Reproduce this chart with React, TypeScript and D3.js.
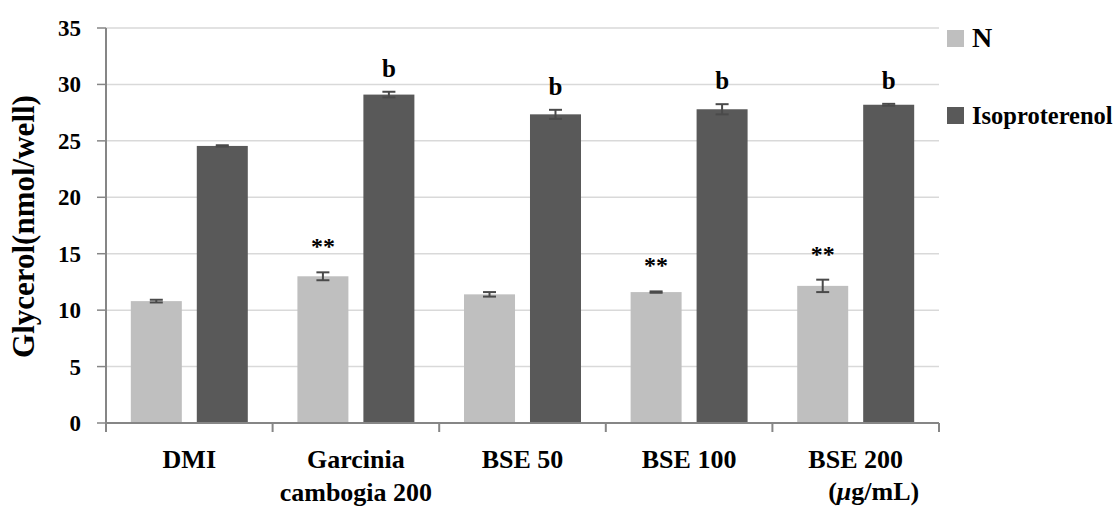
import React from "react";
import * as d3 from "d3";

const categories = ["DMI", "Garcinia cambogia 200", "BSE 50", "BSE 100", "BSE 200"];
const seriesNames = ["N", "Isoproterenol"];
const nValues = [10.8, 13.0, 11.4, 11.6, 12.15];
const nErrors = [0.12, 0.35, 0.2, 0.06, 0.55];
const isoValues = [24.55, 29.1, 27.35, 27.8, 28.2];
const isoErrors = [0.06, 0.25, 0.4, 0.45, 0.08];
const nMarks = ["", "**", "", "**", "**"];
const isoMarks = ["", "b", "b", "b", "b"];
const yTicks = [0, 5, 10, 15, 20, 25, 30, 35];

const colors = ["#bfbfbf", "#595959"];
const font = "'Liberation Serif', 'Times New Roman', serif";

const W = 1120;
const H = 507;
const margin = { left: 106, top: 28, right: 181, bottom: 84 };

const App = () => {
    const innerW = W - margin.left - margin.right;
    const innerH = H - margin.top - margin.bottom;

    const x0 = d3.scaleBand().domain(categories).range([0, innerW]).padding(0);
    const x1 = d3
        .scaleBand()
        .domain(seriesNames)
        .range([0, x0.bandwidth()])
        .paddingInner(0.227)
        .paddingOuter(0.376);
    const y = d3.scaleLinear().domain([0, 35]).range([innerH, 0]);

    const series = [
        { name: seriesNames[0], values: nValues, errors: nErrors, marks: nMarks, offset: 18, size: 24 },
        { name: seriesNames[1], values: isoValues, errors: isoErrors, marks: isoMarks, offset: 15, size: 25 },
    ];

    const boundaries = categories.map(c => x0(c)!).concat([innerW]);

    return (
        <svg
            width={W}
            height={H}
            style={{ position: "fixed", left: 0, top: 0, background: "#fff" }}
            fontFamily={font}
            fontWeight="bold"
        >
            <g transform={`translate(${margin.left},${margin.top})`}>
                {yTicks.map(t => (
                    <g key={t}>
                        {t > 0 && (
                            <line x1={0} x2={innerW} y1={y(t)} y2={y(t)} stroke="#d9d9d9" strokeWidth={1.5} />
                        )}
                        <line x1={-9} x2={0} y1={y(t)} y2={y(t)} stroke="#868686" strokeWidth={1.5} />
                        <text x={-25} y={y(t)} dy="0.35em" textAnchor="end" fontSize={23} fill="#000">
                            {t}
                        </text>
                    </g>
                ))}

                {series.map((s, si) => (
                    <g key={s.name}>
                        {categories.map((c, i) => {
                            const bx = x0(c)! + x1(s.name)!;
                            const cx = bx + x1.bandwidth() / 2;
                            const top = y(s.values[i] + s.errors[i]);
                            const bottom = y(s.values[i] - s.errors[i]);
                            return (
                                <g key={c}>
                                    <rect
                                        x={bx}
                                        y={y(s.values[i])}
                                        width={x1.bandwidth()}
                                        height={innerH - y(s.values[i])}
                                        fill={colors[si]}
                                    />
                                    <g stroke="#4a4a4a" strokeWidth={2}>
                                        <line x1={cx} x2={cx} y1={top} y2={bottom} />
                                        <line x1={cx - 6.5} x2={cx + 6.5} y1={top} y2={top} />
                                        <line x1={cx - 6.5} x2={cx + 6.5} y1={bottom} y2={bottom} />
                                    </g>
                                    {s.marks[i] && (
                                        <text
                                            x={cx}
                                            y={top - s.offset}
                                            textAnchor="middle"
                                            fontSize={s.size}
                                            fill="#000"
                                        >
                                            {s.marks[i]}
                                        </text>
                                    )}
                                </g>
                            );
                        })}
                    </g>
                ))}

                <line x1={0} x2={0} y1={0} y2={innerH + 8} stroke="#868686" strokeWidth={2} />
                <line x1={0} x2={innerW} y1={innerH} y2={innerH} stroke="#868686" strokeWidth={2} />
                {boundaries.map((b, i) => (
                    <line key={i} x1={b} x2={b} y1={innerH} y2={innerH + 9} stroke="#868686" strokeWidth={2} />
                ))}

                {categories.map(c => {
                    const cx = x0(c)! + x0.bandwidth() / 2;
                    if (c === "Garcinia cambogia 200") {
                        return (
                            <text key={c} textAnchor="middle" fontSize={26} fill="#000">
                                <tspan x={cx} y={innerH + 45}>Garcinia</tspan>
                                <tspan x={cx} y={innerH + 78}>cambogia 200</tspan>
                            </text>
                        );
                    }
                    if (c === "BSE 200") {
                        return (
                            <text key={c} fontSize={26} fill="#000">
                                <tspan x={cx} y={innerH + 45} textAnchor="middle">BSE 200</tspan>
                                <tspan x={cx + 18} y={innerH + 77} textAnchor="middle">
                                    (<tspan fontStyle="italic">μ</tspan>g/mL)
                                </tspan>
                            </text>
                        );
                    }
                    return (
                        <text key={c} x={cx} y={innerH + 45} textAnchor="middle" fontSize={26} fill="#000">
                            {c}
                        </text>
                    );
                })}
            </g>

            <text
                transform={`translate(34,${margin.top + innerH / 2 + 1}) rotate(-90)`}
                textAnchor="middle"
                fontSize={31}
                fill="#000"
            >
                Glycerol(nmol/well)
            </text>

            <g>
                <rect x={947} y={30} width={17} height={17} fill={colors[0]} />
                <text x={972} y={47} fontSize={28} fill="#000">{seriesNames[0]}</text>
                <rect x={947} y={107} width={17} height={17} fill={colors[1]} />
                <text x={972} y={124} fontSize={24.5} fill="#000">{seriesNames[1]}</text>
            </g>
        </svg>
    );
};

export default App;
